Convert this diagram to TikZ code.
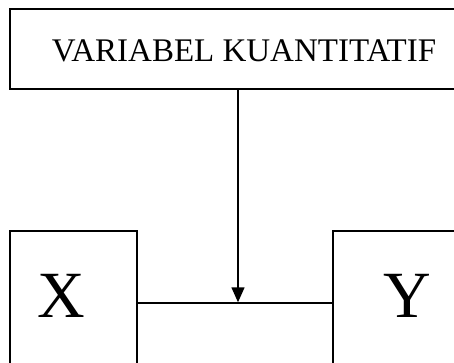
\documentclass[tikz,border=0pt]{standalone}
\usepackage{fontspec}
\setmainfont{Liberation Serif}
\usetikzlibrary{arrows.meta}
\begin{document}
\begin{tikzpicture}[x=1pt,y=-1pt,
  boxstyle/.style={draw=black,line width=1.6pt,fill=white,rectangle,inner sep=0pt},
  conn/.style={draw=black,line width=1.4pt}]
\useasboundingbox (0,0) rectangle (454,363);
\clip (0,0) rectangle (454,363);
\fill[white] (0,0) rectangle (454,363);
\node[boxstyle,minimum width=468pt,minimum height=80pt] (top) at (244,49) {};
\node[font=\fontsize{33}{36}\selectfont] (toptext) at (244,51) {VARIABEL KUANTITATIF};
\node[boxstyle,minimum width=127pt,minimum height=144pt] (xb) at (73.5,303) {};
\node[boxstyle,minimum width=150pt,minimum height=144pt] (yb) at (408,303) {};
\node[font=\fontsize{66}{70}\selectfont] (xl) at (61,296) {X};
\node[font=\fontsize{66}{70}\selectfont] (yl) at (407,296) {Y};
\draw[conn] (xb.east) -- (yb.west);
\coordinate (j) at (238,302.3);
\draw[conn,-{Triangle[width=13pt,length=15pt]}] (top.south -| j) -- (j);
\end{tikzpicture}
\end{document}
